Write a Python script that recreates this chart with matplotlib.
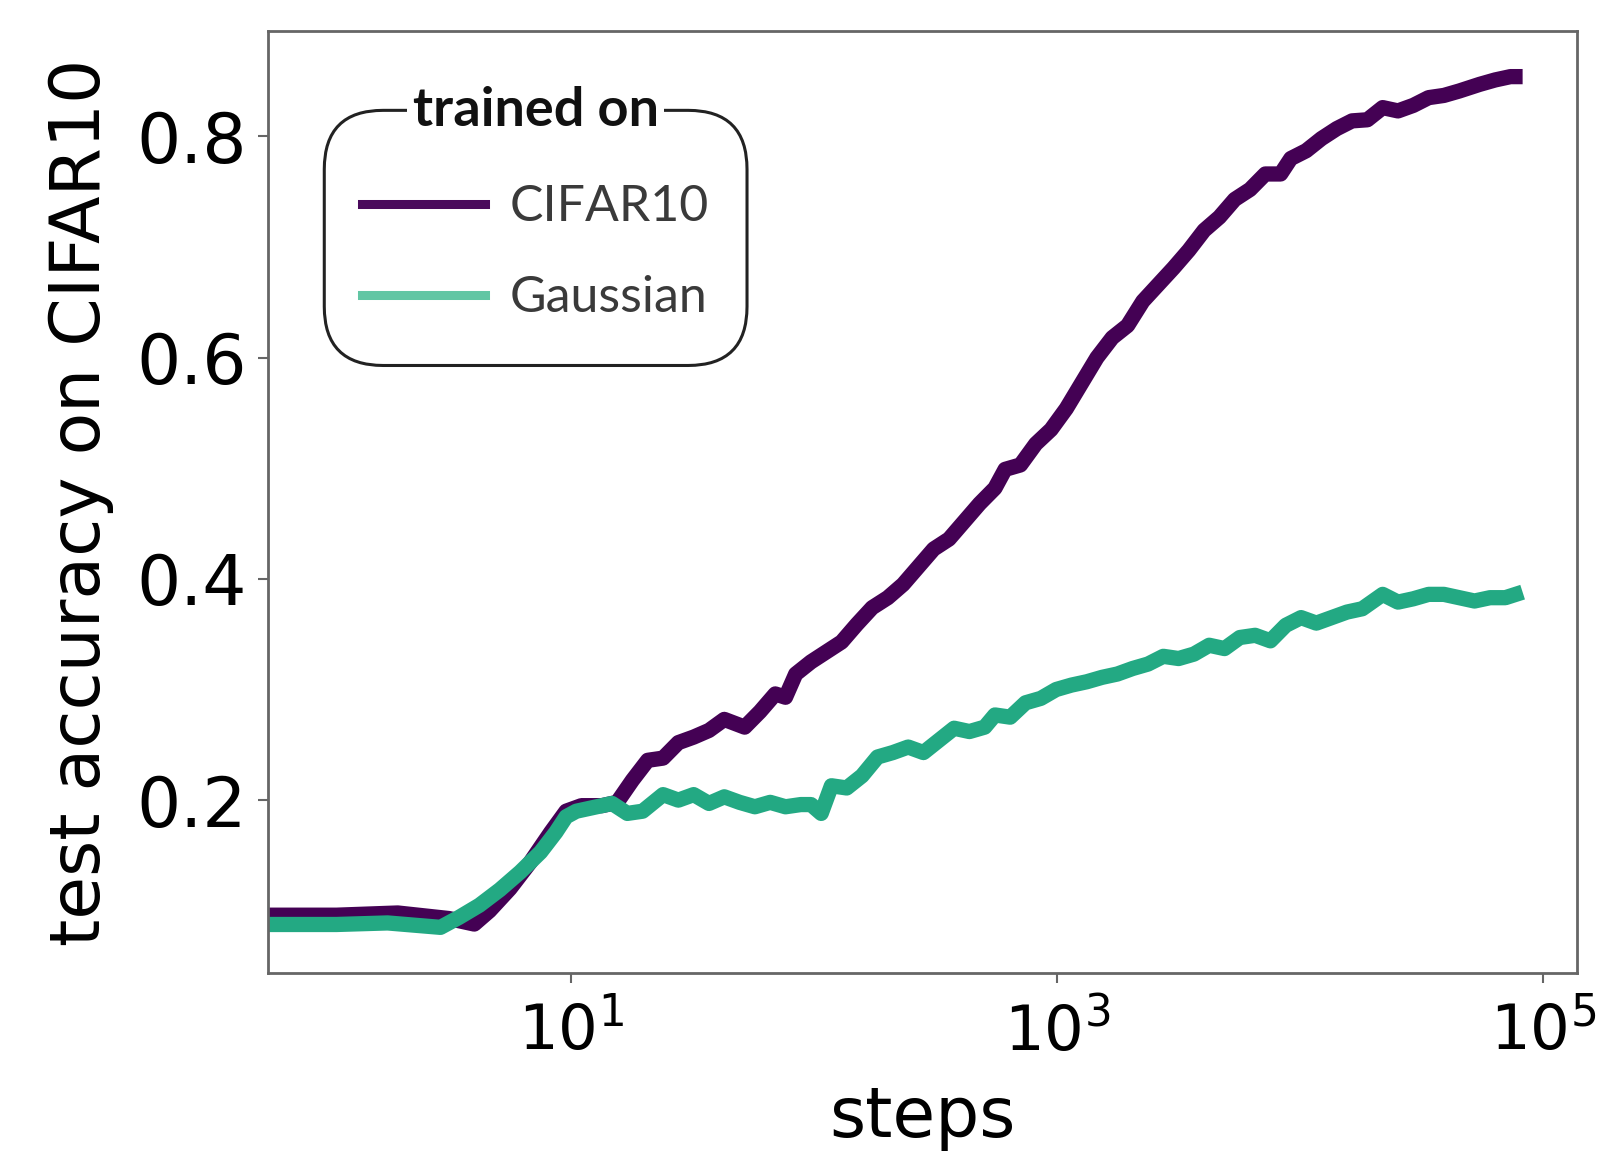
import numpy as np
import matplotlib
matplotlib.use('Agg')
import matplotlib.pyplot as plt
from matplotlib.lines import Line2D
from matplotlib.patches import FancyBboxPatch

# values; x given as log10(steps)
cifar_log_steps = [-0.248, 0.034, 0.286, 0.496, 0.601, 0.664, 0.748, 0.832, 0.916, 0.979,
                   1.042, 1.126, 1.189, 1.252, 1.315, 1.378, 1.441, 1.504, 1.567, 1.630,
                   1.714, 1.777, 1.840, 1.882, 1.924, 1.987, 2.050, 2.113, 2.176, 2.239,
                   2.303, 2.366, 2.429, 2.492, 2.555, 2.618, 2.681, 2.744, 2.786, 2.849,
                   2.912, 2.975, 3.038, 3.101, 3.164, 3.227, 3.290, 3.353, 3.416, 3.479,
                   3.542, 3.605, 3.668, 3.731, 3.794, 3.857, 3.920, 3.962, 4.025, 4.088,
                   4.151, 4.214, 4.277, 4.340, 4.403, 4.466, 4.529, 4.592, 4.655, 4.739,
                   4.803, 4.866, 4.916]
cifar_acc = [0.096, 0.096, 0.098, 0.093, 0.088, 0.100, 0.120, 0.144, 0.171, 0.190,
             0.195, 0.195, 0.198, 0.218, 0.236, 0.238, 0.252, 0.257, 0.263, 0.273,
             0.266, 0.280, 0.296, 0.293, 0.314, 0.325, 0.334, 0.343, 0.359, 0.374,
             0.383, 0.395, 0.411, 0.427, 0.436, 0.452, 0.468, 0.482, 0.499, 0.503,
             0.522, 0.535, 0.554, 0.577, 0.600, 0.618, 0.629, 0.651, 0.666, 0.681,
             0.697, 0.715, 0.727, 0.743, 0.752, 0.766, 0.766, 0.780, 0.787, 0.798,
             0.807, 0.814, 0.815, 0.826, 0.823, 0.828, 0.835, 0.837, 0.841, 0.847,
             0.851, 0.854, 0.854]

gauss_log_steps = [-0.248, 0.034, 0.244, 0.462, 0.538, 0.622, 0.706, 0.790, 0.874, 0.937,
                   0.979, 1.021, 1.084, 1.168, 1.231, 1.294, 1.378, 1.441, 1.504, 1.567,
                   1.630, 1.693, 1.756, 1.819, 1.882, 1.945, 1.987, 2.029, 2.071, 2.134,
                   2.197, 2.261, 2.324, 2.387, 2.450, 2.513, 2.576, 2.639, 2.702, 2.744,
                   2.807, 2.870, 2.933, 2.996, 3.059, 3.122, 3.185, 3.248, 3.311, 3.374,
                   3.437, 3.500, 3.563, 3.626, 3.689, 3.752, 3.815, 3.878, 3.941, 4.004,
                   4.067, 4.130, 4.193, 4.256, 4.340, 4.403, 4.466, 4.529, 4.592, 4.655,
                   4.718, 4.782, 4.845, 4.916]
gauss_acc = [0.0876, 0.0876, 0.089, 0.085, 0.094, 0.105, 0.119, 0.135, 0.153, 0.171,
             0.185, 0.190, 0.193, 0.197, 0.188, 0.190, 0.205, 0.200, 0.205, 0.197,
             0.203, 0.198, 0.194, 0.198, 0.194, 0.196, 0.196, 0.188, 0.213, 0.211,
             0.222, 0.239, 0.243, 0.248, 0.243, 0.254, 0.265, 0.262, 0.266, 0.277,
             0.275, 0.288, 0.292, 0.300, 0.304, 0.307, 0.311, 0.314, 0.319, 0.323,
             0.330, 0.328, 0.332, 0.340, 0.337, 0.347, 0.349, 0.344, 0.358, 0.365,
             0.360, 0.365, 0.370, 0.373, 0.386, 0.379, 0.382, 0.386, 0.386, 0.383,
             0.380, 0.383, 0.383, 0.388]

labels = ['CIFAR10', 'Gaussian']
purple = '#440154'
green = '#23a983'

cifar_steps = 10 ** np.array(cifar_log_steps)
gauss_steps = 10 ** np.array(gauss_log_steps)

fig = plt.figure(figsize=(16, 11.58), dpi=100)
ax = fig.add_axes([0.1675, 0.16, 0.818, 0.813])

ax.plot(cifar_steps, cifar_acc, color=purple, lw=11, solid_capstyle='butt',
        solid_joinstyle='round')
ax.plot(gauss_steps, gauss_acc, color=green, lw=11, solid_capstyle='butt',
        solid_joinstyle='round')

ax.set_xscale('log')
ax.set_xlim(10 ** -0.248, 10 ** 5.139)
ax.set_ylim(0.044, 0.895)
ax.set_xticks([10, 1e3, 1e5])
ax.xaxis.set_minor_locator(matplotlib.ticker.NullLocator())
ax.set_yticks([0.2, 0.4, 0.6, 0.8])
ax.set_yticklabels(['0.2', '0.4', '0.6', '0.8'])

for s in ax.spines.values():
    s.set_color('#666666')
    s.set_linewidth(2)
ax.tick_params(axis='y', labelsize=50, length=7, width=1.5, color='#666666', pad=8)
ax.tick_params(axis='x', labelsize=45, length=7, width=1.5, color='#666666', pad=13)

ax.set_xlabel('steps', fontsize=50, labelpad=14)
ax.set_ylabel('test accuracy on CIFAR10', fontsize=50, labelpad=16)

# legend: rounded box with the title sitting on the top border
box_l, box_r, box_b, box_t = 0.043, 0.366, 0.645, 0.916
aspect = (0.818 * 1600) / (0.813 * 1158)
frame = FancyBboxPatch((box_l, box_b), box_r - box_l, box_t - box_b,
                       boxstyle='round,pad=0,rounding_size=0.045',
                       mutation_aspect=aspect, transform=ax.transAxes,
                       facecolor='white', edgecolor='#222222', lw=2.2, zorder=4)
ax.add_patch(frame)

handles = [Line2D([], [], color='#4a0a5c', lw=6.5),
           Line2D([], [], color='#62c6a4', lw=6.5)]
leg = ax.legend(handles, labels, loc='center left', bbox_to_anchor=(0.072, 0.765),
                frameon=False, borderpad=0, borderaxespad=0, handlelength=2.45,
                handletextpad=0.5, labelspacing=0.9,
                prop={'family': 'Lato', 'size': 36})
leg.set_zorder(5)
for t in leg.get_texts():
    t.set_color('#3a3a3a')

ax.text((box_l + box_r) / 2, box_t, 'trained on', transform=ax.transAxes,
        ha='center', va='center', family='Lato', weight='bold', fontsize=39,
        color='#111111', zorder=6,
        bbox=dict(facecolor='white', edgecolor='none', pad=4))

fig.savefig('out.png', dpi=100)
